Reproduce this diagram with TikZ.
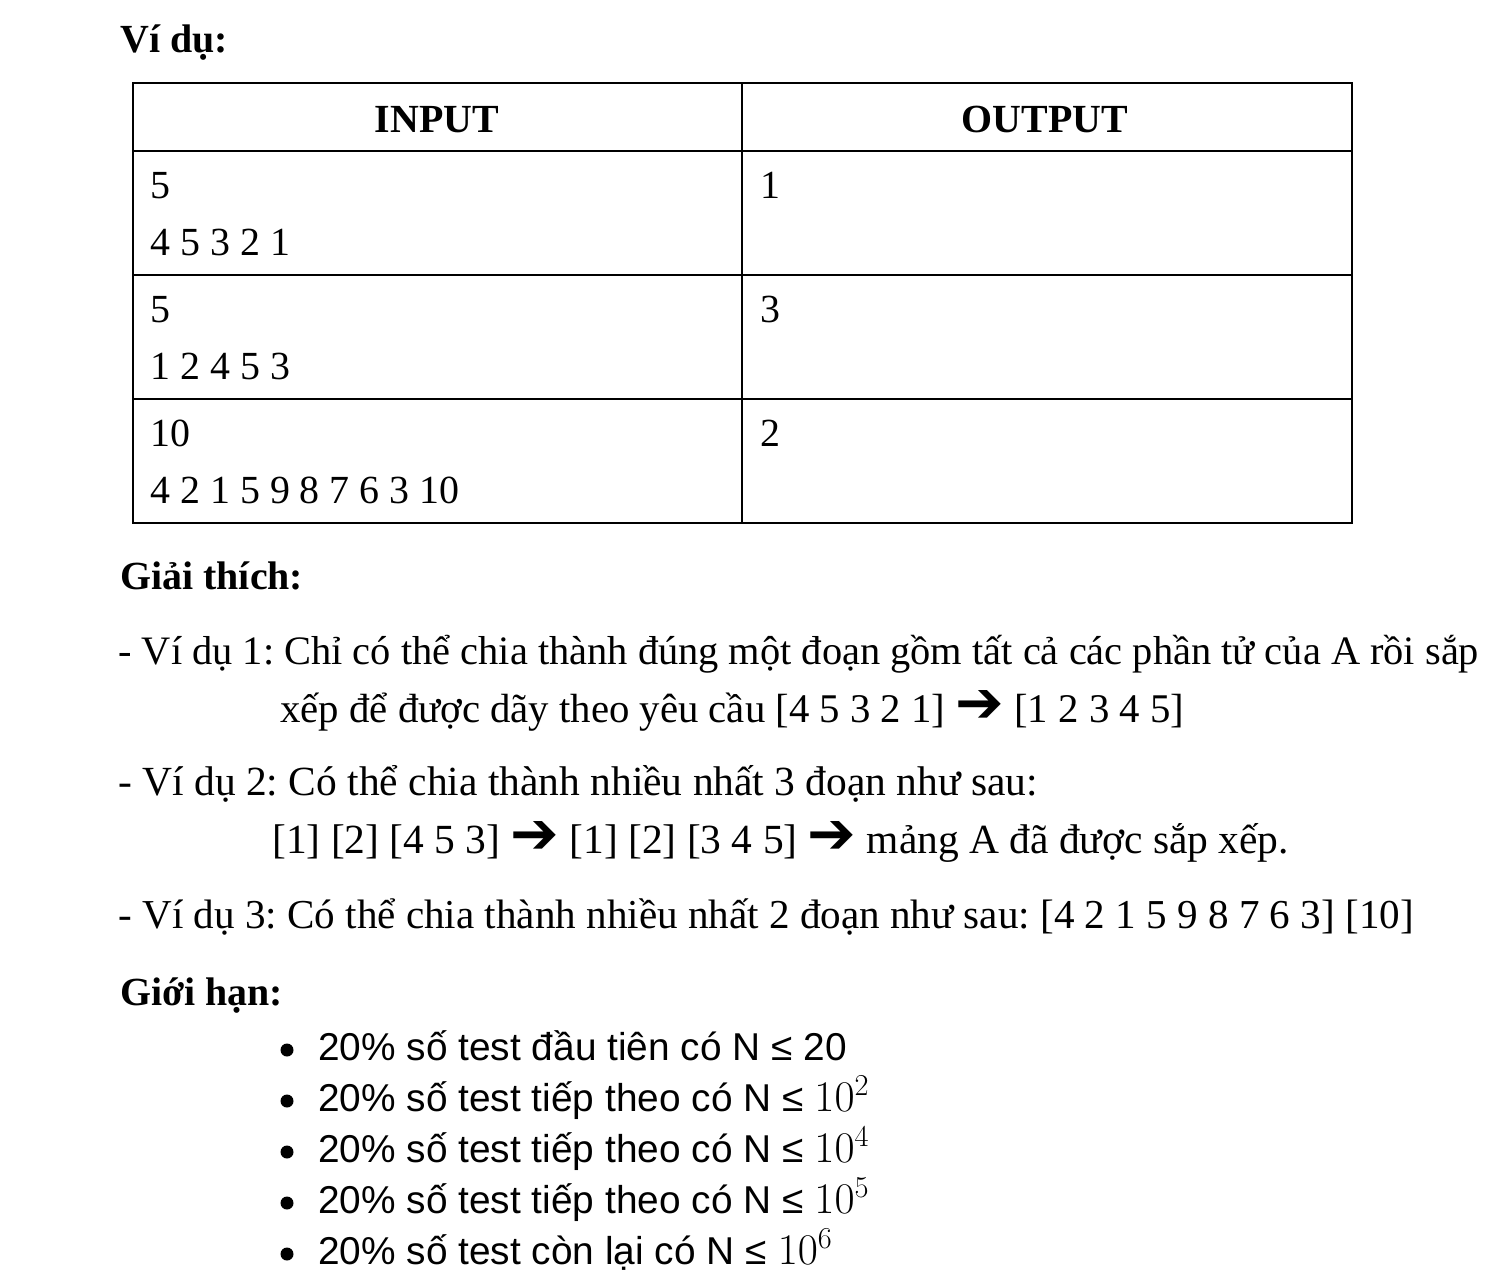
\documentclass[tikz,border=0pt]{standalone}
\usepackage{fontspec}
\setmainfont{Liberation Serif}
\newfontfamily\sansfam{Liberation Sans}
\newfontfamily\arrowfam{DejaVu Sans}
\newcommand{\rarrow}{{\arrowfam\bfseries\fontsize{33}{33}\selectfont ➔}}
\newcommand{\tenpow}[1]{{\fontsize{25}{26}\selectfont$10^{#1}$}}

\tikzset{
  txt/.style={anchor=base west, inner sep=0pt, font=\fontsize{22.7}{27}\selectfont},
  line/.style={anchor=base west, inner sep=0pt, font=\frenchspacing\fontsize{#1}{27}\selectfont},
  line/.default=23,
  head/.style={anchor=base west, inner sep=0pt, font=\fontsize{22.7}{27}\selectfont\bfseries},
  item/.style={anchor=base west, inner sep=0pt, font=\sansfam\fontsize{22.1}{26}\selectfont},
}

\begin{document}
\begin{tikzpicture}[x=0.02cm, y=-0.02cm]

    \useasboundingbox[fill=white] (0,0) rectangle (1505,1276);

    % headings
    \node[head] (vidu) at (120,52) {Ví dụ:};
    \node[head] (giaithich) at (120,589) {Giải thích:};
    \node[head] (gioihan) at (120,1005) {Giới hạn:};

    % table
    \coordinate (tl) at (133,83);
    \coordinate (br) at (1352,523);

    \draw[line width=1.1pt] (tl) rectangle (br);
    \draw[line width=1.1pt] (742,83) -- (742,523);
    \foreach \y in {151,275,399}
        \draw[line width=1.1pt] (133,\y) -- (1352,\y);

    \node[head, anchor=base] (input) at (437,132) {INPUT};
    \node[head, anchor=base] (output) at (1045,132) {OUTPUT};

    \foreach \n/\a/\o [count=\i from 0] in
        {5/4 5 3 2 1/1, 5/1 2 4 5 3/3, 10/4 2 1 5 9 8 7 6 3 10/2}
    {
        \pgfmathsetmacro{\yy}{198+124*\i}
        \node[txt] (n\i) at (150,\yy) {\n};
        \node[txt] (a\i) at (150,\yy+57) {\a};
        \node[txt] (o\i) at (760,\yy) {\o};
    }

    % explanation
    \node[line] (ex1) at (118,664)
        {- Ví dụ 1: Chỉ có thể chia thành đúng một đoạn gồm tất cả các phần tử của A rồi sắp};
    \node[line=23.2] (ex1b) at (280,722)
        {xếp để được dãy theo yêu cầu [4 5 3 2 1] \rarrow{} [1 2 3 4 5]};
    \node[line=23.6] (ex2) at (118,795)
        {- Ví dụ 2: Có thể chia thành nhiều nhất 3 đoạn như sau:};
    \node[line=23.6] (ex2b) at (272,853)
        {[1] [2] [4 5 3] \rarrow{} [1] [2] [3 4 5] \rarrow{} mảng A đã được sắp xếp.};
    \node[line=23.4] (ex3) at (118,928)
        {- Ví dụ 3: Có thể chia thành nhiều nhất 2 đoạn như sau: [4 2 1 5 9 8 7 6 3] [10]};

    % limits
    \foreach \t [count=\i from 0] in
        {{20\% số test đầu tiên có N ≤ 20},
         {20\% số test tiếp theo có N ≤ \tenpow{2}},
         {20\% số test tiếp theo có N ≤ \tenpow{4}},
         {20\% số test tiếp theo có N ≤ \tenpow{5}},
         {20\% số test còn lại có N ≤ \tenpow{6}}}
    {
        \pgfmathsetmacro{\yy}{1060+51*\i}
        \fill (287,\yy-10) circle (6.5);
        \node[item] (lim\i) at (318,\yy) {\t};
    }

\end{tikzpicture}
\end{document}
